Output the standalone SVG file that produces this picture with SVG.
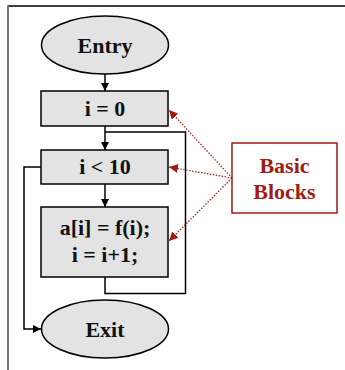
<svg xmlns="http://www.w3.org/2000/svg" width="345" height="370" viewBox="0 0 345 370">
<defs>
<marker id="ah" viewBox="0 0 10 10" refX="10" refY="5" markerWidth="8" markerHeight="8" markerUnits="userSpaceOnUse" orient="auto"><path d="M0,0 L10,5 L0,10 z" fill="#000"/></marker>
<marker id="rh" viewBox="0 0 10 10" refX="10" refY="5" markerWidth="9" markerHeight="9" markerUnits="userSpaceOnUse" orient="auto"><path d="M0,0 L10,5 L0,10 z" fill="#a01c14"/></marker>
</defs>
<style>
.n{fill:#e3e3e3;stroke:#000;stroke-width:1.5}
.t{font-family:"Liberation Serif","Times New Roman",serif;font-weight:bold;font-size:22px;fill:#111;text-anchor:middle}
.c{fill:none;stroke:#000;stroke-width:1.5}
.d{fill:none;stroke:#a01c14;stroke-width:1.2;stroke-dasharray:1.5 1.5}
.r{font-family:"Liberation Serif","Times New Roman",serif;font-weight:bold;font-size:22px;fill:#a01c14;text-anchor:middle}
</style>
<rect width="345" height="370" fill="#fff"/>
<g id="frame">
<line x1="7.5" y1="6" x2="345" y2="6" stroke="#000" stroke-width="1.5"/>
<line x1="8" y1="6" x2="8" y2="370" stroke="#777" stroke-width="2"/>
</g>
<g id="connectors">
<path class="c" d="M105,74 V91" marker-end="url(#ah)"/>
<path class="c" d="M105,126 V150" marker-end="url(#ah)"/>
<path class="c" d="M105,132 H185.5 V293.5 H105 V277"/>
<path class="c" d="M105,184 V207" marker-end="url(#ah)"/>
<path class="c" d="M41,167 H24 V329 H41" marker-end="url(#ah)"/>
<path class="d" d="M232,178 L169,110" marker-end="url(#rh)"/>
<path class="d" d="M232,178 L169,167" marker-end="url(#rh)"/>
<path class="d" d="M232,178 L169,241" marker-end="url(#rh)"/>
</g>
<g id="entry">
<ellipse class="n" cx="105" cy="45" rx="63.5" ry="29"/>
<text class="t" x="105" y="52.5">Entry</text>
</g>
<g id="init">
<rect class="n" x="41" y="91" width="127" height="35"/>
<text class="t" x="105" y="116">i = 0</text>
</g>
<g id="cond">
<rect class="n" x="41" y="150" width="127" height="34"/>
<text class="t" x="105" y="174">i &lt; 10</text>
</g>
<g id="body">
<rect class="n" x="41" y="207" width="127" height="70"/>
<text class="t" x="105" y="235">a[i] = f(i);</text>
<text class="t" x="105" y="262">i = i+1;</text>
</g>
<g id="exit">
<ellipse class="n" cx="105" cy="329" rx="63.5" ry="29"/>
<text class="t" x="105" y="336.5">Exit</text>
</g>
<g id="label">
<rect x="232" y="143" width="105" height="70" fill="#fff" stroke="#a01c14" stroke-width="1.5"/>
<text class="r" x="284.5" y="173">Basic</text>
<text class="r" x="284.5" y="199">Blocks</text>
</g>
</svg>
